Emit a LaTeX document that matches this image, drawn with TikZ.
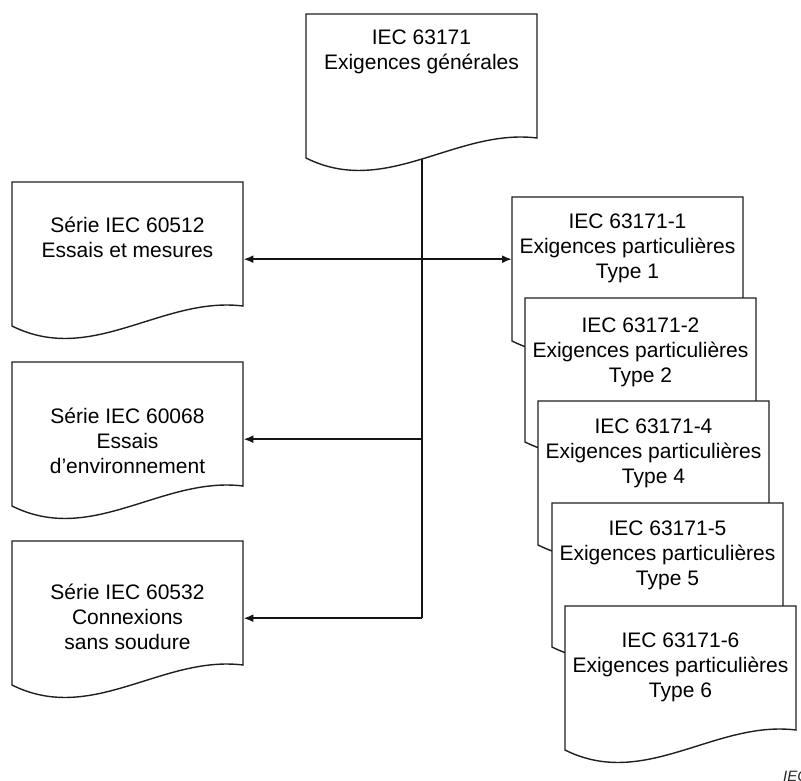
\documentclass[tikz,border=0pt]{standalone}
\usepackage{fontspec}
\setmainfont{Liberation Sans}
\usetikzlibrary{arrows.meta,calc}
\tikzset{
  docbox/.style={minimum width=231pt, minimum height=154pt, anchor=north west, inner sep=0pt, draw=none},
  docline/.style={draw=black!88, line width=1.4pt, fill=white, line join=miter},
  doctext/.style={align=center, font=\fontsize{21}{25}\selectfont, text=black, inner sep=0pt},
  conn/.style={draw=black!92, line width=2pt},
  arrowend/.style={-{Latex[length=10pt,width=8pt]}},
  arrowboth/.style={{Latex[length=10pt,width=8pt]}-{Latex[length=10pt,width=8pt]}},
}
\newcommand{\drawdoc}[1]{%
  \path[docline] ([shift={(231pt,-124pt)}]#1.north west)
    .. controls ([shift={(150pt,-114pt)}]#1.north west) and ([shift={(80pt,-184pt)}]#1.north west)
    .. ([shift={(0pt,-144pt)}]#1.north west)
    -- (#1.north west) -- ([shift={(231pt,0pt)}]#1.north west) -- cycle;
}
\begin{document}
\begin{tikzpicture}[x=1pt,y=-1pt]
\useasboundingbox (0,0) rectangle (801,780);

% document frames (invisible anchors)
\node[docbox] (T)  at (306,14)  {};
\node[docbox] (L1) at (12,182)  {};
\node[docbox] (L2) at (12,362)  {};
\node[docbox] (L3) at (12,541)  {};
\node[docbox] (R1) at (512,197) {};
\node[docbox] (R2) at (525,298) {};
\node[docbox] (R3) at (538,401) {};
\node[docbox] (R4) at (552,503) {};
\node[docbox] (R5) at (565,606) {};

% trunk (under the top document)
\draw[conn] (T.center) -- (T.center |- L3.east) coordinate (j3);

% documents
\drawdoc{T}
\node[doctext] (tT) at (421.5,52) {IEC 63171\\Exigences générales};
\drawdoc{L1}
\node[doctext] (tL1) at (127.5,237) {Série IEC 60512\\Essais et mesures};
\drawdoc{L2}
\node[doctext] (tL2) at (127.5,441) {Série IEC 60068\\Essais\\d’environnement};
\drawdoc{L3}
\node[doctext] (tL3) at (127.5,617) {Série IEC 60532\\Connexions\\sans soudure};

\drawdoc{R1}
\node[doctext] (tR1) at (627.5,248) {IEC 63171-1\\Exigences particulières\\Type 1};
\drawdoc{R2}
\node[doctext] (tR2) at (640.5,352) {IEC 63171-2\\Exigences particulières\\Type 2};
\drawdoc{R3}
\node[doctext] (tR3) at (653.5,453) {IEC 63171-4\\Exigences particulières\\Type 4};
\drawdoc{R4}
\node[doctext] (tR4) at (667.5,555) {IEC 63171-5\\Exigences particulières\\Type 5};
\drawdoc{R5}
\node[doctext] (tR5) at (680.5,667) {IEC 63171-6\\Exigences particulières\\Type 6};

% connectors
\draw[conn, arrowboth] (L1.east) -- (L1.east -| R1.west);
\draw[conn, arrowend] (T.center |- L2.east) coordinate (j2) -- (L2.east);
\draw[conn, arrowend] (j3) -- (L3.east);

% source tag
\node[font=\fontsize{15}{18}\selectfont\itshape, anchor=north west, inner sep=0pt, text=black!85] (iec) at (783,771) {IEC};
\end{tikzpicture}
\end{document}
